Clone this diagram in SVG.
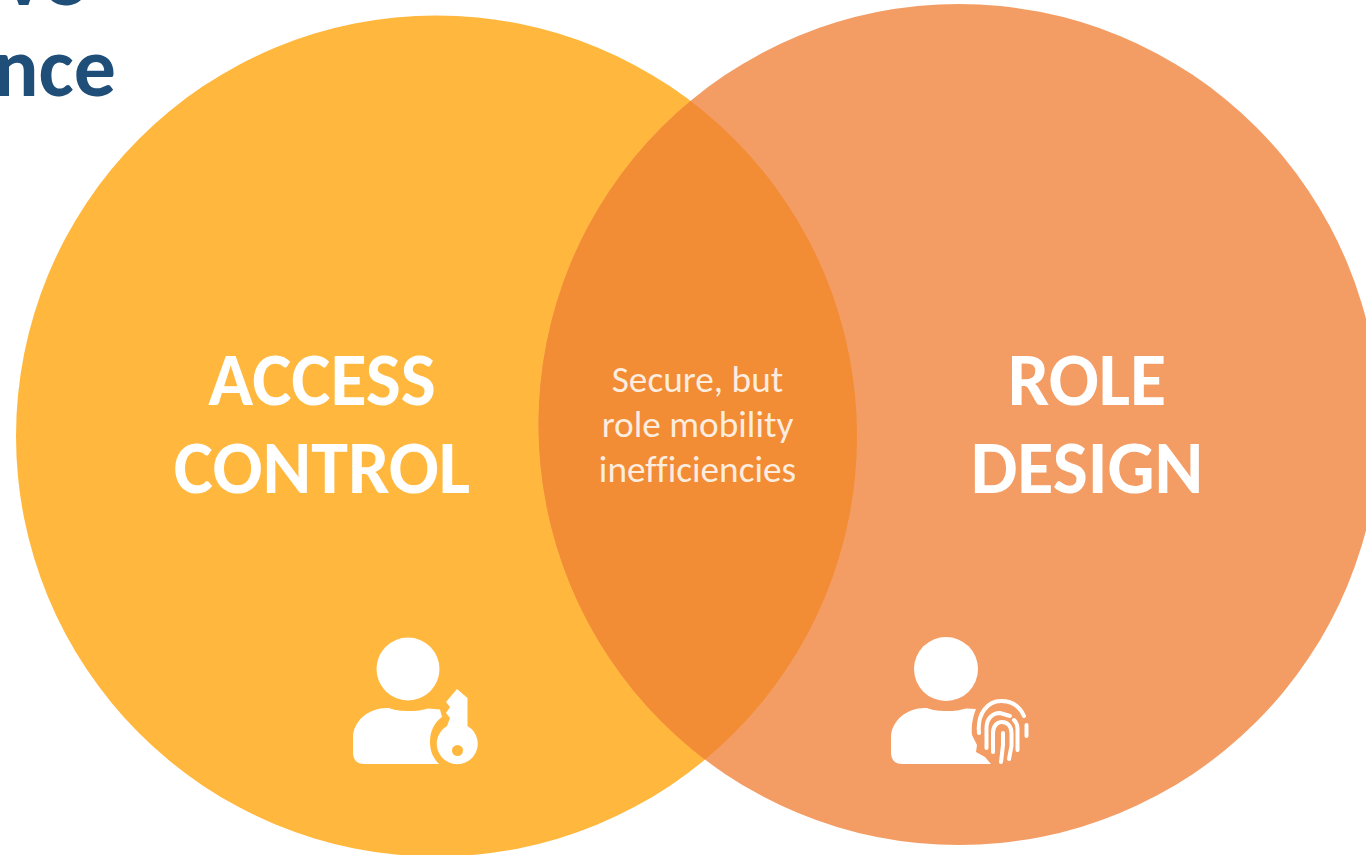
<svg xmlns="http://www.w3.org/2000/svg" width="1366" height="855" viewBox="0 0 1366 855">
<style>
text{font-family:"Carlito","Lato","Open Sans",sans-serif}
.title{font-weight:700;font-size:84px;fill:#1F4E79;text-anchor:end}
.head{font-weight:700;font-size:74px;fill:#fff;text-anchor:middle}
.mid{font-size:37.300px;font-variant-ligatures:none;fill:#fff;fill-opacity:.85;text-anchor:middle}
.w{fill:#fff}
</style>
<defs>
<clipPath id="overlap"><circle cx="436.500" cy="436" r="420.500"/></clipPath>
</defs>
<rect width="1366" height="855" fill="#fff"/>
<g id="title">
<text class="title" x="85" y="5">ve</text>
<text class="title" x="116" y="96">nce</text>
</g>
<g id="access-control">
<circle cx="436.500" cy="436" r="420.500" fill="#FFB83D"/>
<text class="head" x="322" y="405">ACCESS</text>
<text class="head" x="322" y="493">CONTROL</text>
<g id="key-icon">
<circle class="w" cx="408" cy="669" r="31.500"/>
<path class="w" d="M389 708C398 712 418 712 428 708.500L440 709.500L442 717C435 722 430 730 430 742C430 751 433 758 439 764H364C357 764 353 760 353 752V738C353 720 370 707 389 708Z"/>
<path class="w" d="M457 689L467.500 698V726A20.500 20.500 0 1 1 447 726L450 718L446 713L450 707L446 702Z"/>
<circle cx="457.500" cy="750.500" r="5.500" fill="#FFB83D"/>
</g>
</g>
<g id="role-design">
<circle cx="959" cy="424.500" r="420.500" fill="#F39D65"/>
<circle cx="959" cy="424.500" r="420.500" fill="#F28C35" clip-path="url(#overlap)"/>
<text class="head" x="1087" y="405">ROLE</text>
<text class="head" x="1087" y="493">DESIGN</text>
<g id="fingerprint-icon">
<circle class="w" cx="946" cy="669" r="32"/>
<path class="w" d="M927 708C936 712 956 712 966 708.500L976 709C973 716 971 726 972 735L977 745L976 752L985 757L991 764H902C895 764 891 760 891 752V738C891 720 908 707 927 708Z"/>
<g fill="none" stroke="#fff" stroke-width="4" stroke-linecap="round">
<path d="M979 733C977 713 988 701 1001 701C1012 701 1020 707 1024 716"/>
<path d="M1026.500 725V736"/>
<path d="M986.500 748V728C986.500 718 993 713 1000 713L1010 716"/>
<path d="M1017.500 750V729C1017.500 725 1016 722 1014 720"/>
<path d="M993 752V733C993 726 997 722 1002 722C1008 722 1011.500 727 1011.500 733V746L1009 759"/>
<path d="M1001 762L1003 745V733"/>
</g>
</g>
</g>
<g id="overlap-label">
<text class="mid" x="697.500" y="392">Secure, but</text>
<text class="mid" x="697.500" y="437">role mobility</text>
<text class="mid" x="697.500" y="482">inefficiencies</text>
</g>
<g id="connectors"/>
</svg>
